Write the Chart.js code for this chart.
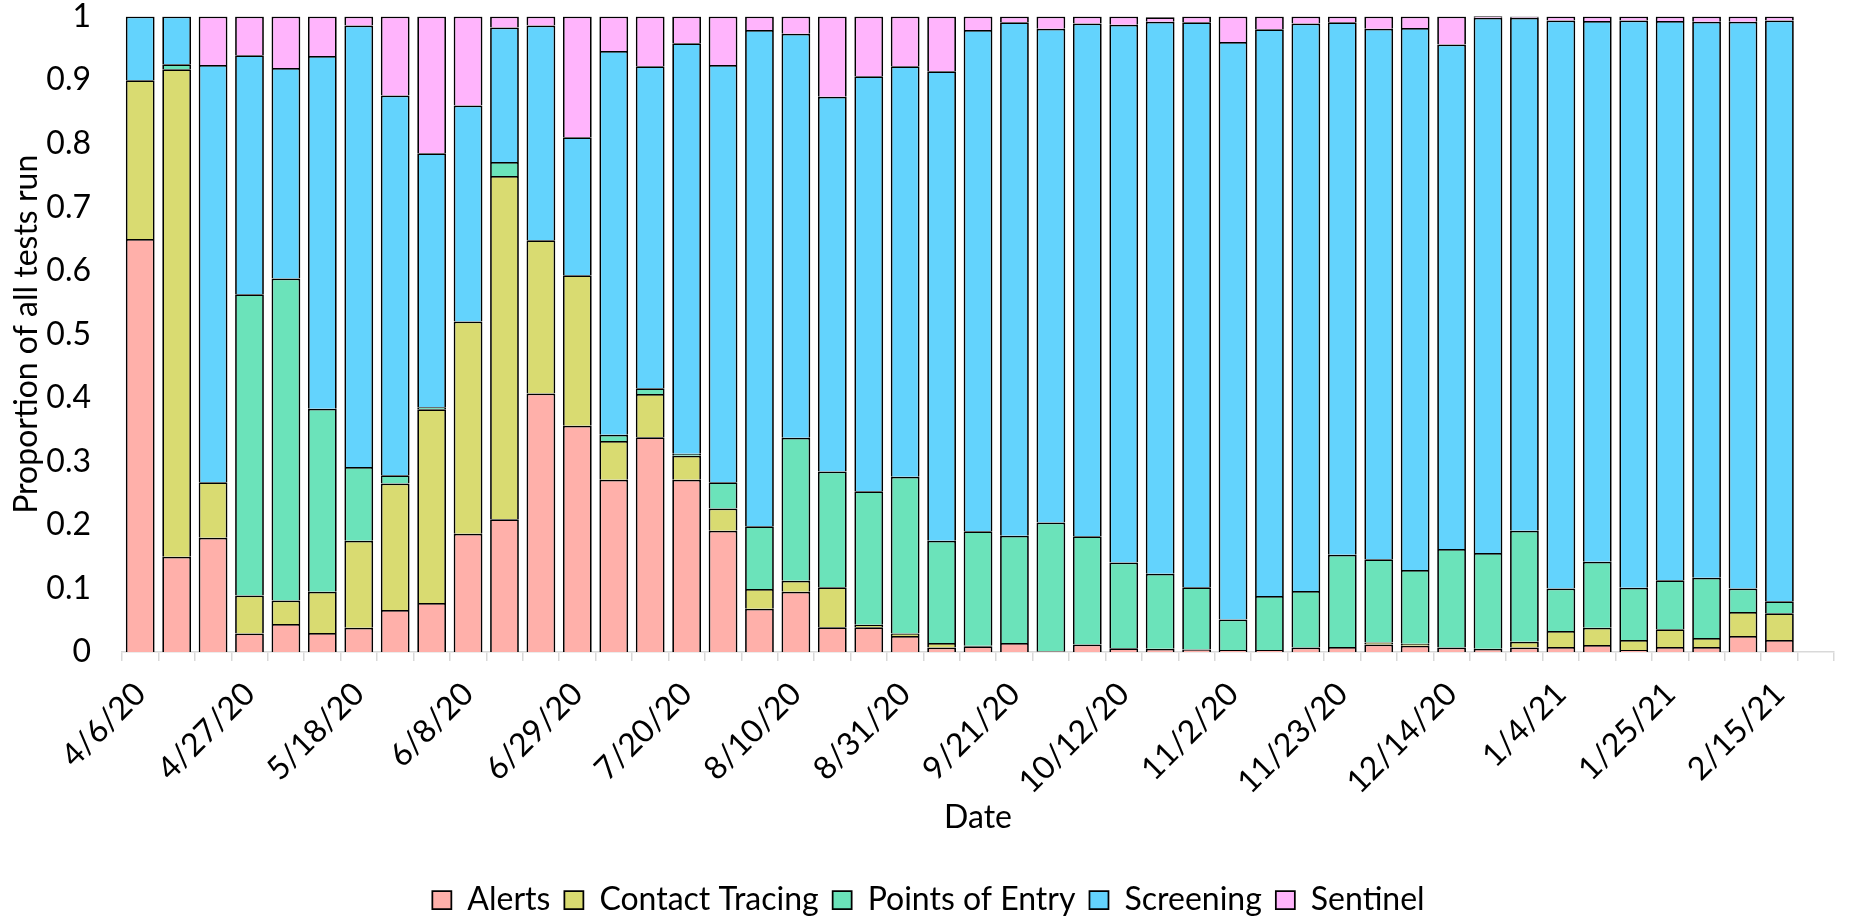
<!DOCTYPE html>
<html>
<head>
<meta charset="utf-8">
<title>Proportion of all tests run</title>
<script src="https://cdn.jsdelivr.net/npm/chart.js@4.4.0/dist/chart.umd.min.js"></script>
<style>
  html, body { margin: 0; padding: 0; background: #fff; }
  #wrap { width: 1857px; height: 917px; }
</style>
</head>
<body>
<div id="wrap"><canvas id="testChart"></canvas></div>
<script>
// Weekly dates (last week has no data)
const dates = [
    '4/6/20', '4/13/20', '4/20/20', '4/27/20', '5/4/20', '5/11/20', '5/18/20', '5/25/20',
    '6/1/20', '6/8/20', '6/15/20', '6/22/20', '6/29/20', '7/6/20', '7/13/20', '7/20/20',
    '7/27/20', '8/3/20', '8/10/20', '8/17/20', '8/24/20', '8/31/20', '9/7/20', '9/14/20',
    '9/21/20', '9/28/20', '10/5/20', '10/12/20', '10/19/20', '10/26/20', '11/2/20', '11/9/20',
    '11/16/20', '11/23/20', '11/30/20', '12/7/20', '12/14/20', '12/21/20', '12/28/20', '1/4/21',
    '1/11/21', '1/18/21', '1/25/21', '2/1/21', '2/8/21', '2/15/21', '2/22/21'
];

// Share of tests per surveillance stream
const alerts = [
    0.650, 0.150, 0.180, 0.029, 0.044, 0.030, 0.038, 0.066, 0.077, 0.186,
    0.209, 0.407, 0.356, 0.271, 0.338, 0.271, 0.191, 0.068, 0.095, 0.039,
    0.039, 0.025, 0.007, 0.009, 0.014, 0.001, 0.012, 0.006, 0.005, 0.004,
    0.003, 0.003, 0.007, 0.008, 0.012, 0.010, 0.007, 0.005, 0.007, 0.008,
    0.011, 0.003, 0.008, 0.008, 0.025, 0.019, null
];
const contactTracing = [
    0.250, 0.767, 0.087, 0.060, 0.037, 0.065, 0.137, 0.199, 0.305, 0.334,
    0.540, 0.241, 0.237, 0.061, 0.068, 0.038, 0.035, 0.031, 0.017, 0.063,
    0.004, 0.004, 0.007, 0.001, 0, 0, 0, 0, 0, 0,
    0, 0, 0, 0, 0.003, 0.003, 0, 0, 0.009, 0.025,
    0.027, 0.016, 0.028, 0.014, 0.038, 0.042, null
];
const pointsOfEntry = [
    0, 0.008, 0, 0.474, 0.507, 0.288, 0.116, 0.013, 0.003, 0,
    0.022, 0, 0, 0.010, 0.009, 0.003, 0.041, 0.099, 0.225, 0.182,
    0.210, 0.247, 0.161, 0.180, 0.169, 0.203, 0.170, 0.135, 0.118, 0.098,
    0.048, 0.085, 0.089, 0.145, 0.131, 0.116, 0.155, 0.151, 0.175, 0.067,
    0.104, 0.082, 0.077, 0.095, 0.037, 0.019, null
];
const screening = [
    0.100, 0.075, 0.657, 0.376, 0.331, 0.555, 0.695, 0.598, 0.400, 0.340,
    0.212, 0.338, 0.217, 0.604, 0.507, 0.646, 0.657, 0.781, 0.636, 0.590,
    0.653, 0.646, 0.739, 0.789, 0.808, 0.777, 0.807, 0.846, 0.869, 0.889,
    0.909, 0.892, 0.893, 0.838, 0.835, 0.853, 0.794, 0.842, 0.807, 0.894,
    0.851, 0.893, 0.880, 0.875, 0.892, 0.914, null
];
const sentinel = [
    0, 0, 0.076, 0.061, 0.081, 0.062, 0.014, 0.124, 0.215, 0.140,
    0.017, 0.014, 0.190, 0.054, 0.078, 0.042, 0.076, 0.021, 0.027, 0.126,
    0.094, 0.078, 0.086, 0.021, 0.009, 0.019, 0.011, 0.013, 0.007, 0.009,
    0.040, 0.020, 0.011, 0.009, 0.019, 0.018, 0.044, 0.003, 0.002, 0.006,
    0.007, 0.006, 0.007, 0.008, 0.008, 0.006, null
];

const seriesNames = ['Alerts', 'Contact Tracing', 'Points of Entry', 'Screening', 'Sentinel'];
const seriesColors = ['#FFB0AA', '#D9DB71', '#6BE3BA', '#63D3FD', '#FFB4FC'];
const seriesData = [alerts, contactTracing, pointsOfEntry, screening, sentinel];

Chart.defaults.font.family = "Lato, 'Liberation Sans', Arial, sans-serif";
Chart.defaults.font.size = 32;
Chart.defaults.color = '#000';

const datasets = seriesNames.map((name, i) => ({
    label: name,
    data: seriesData[i],
    backgroundColor: seriesColors[i],
    borderColor: '#000',
    borderWidth: 1.75,
    barPercentage: 0.79,
    categoryPercentage: 1
}));

const ctx = document.getElementById('testChart').getContext('2d');
new Chart(ctx, {
    type: 'bar',
    data: { labels: dates, datasets: datasets },
    options: {
        responsive: true,
        maintainAspectRatio: false,
        animation: false,
        layout: { padding: 0 },
        plugins: {
            tooltip: { enabled: false },
            legend: {
                position: 'bottom',
                maxHeight: 47,
                labels: {
                    boxWidth: 19,
                    boxHeight: 18,
                    padding: 14,
                    font: { size: 32 }
                }
            }
        },
        scales: {
            x: {
                stacked: true,
                grid: {
                    display: true,
                    drawOnChartArea: false,
                    drawTicks: true,
                    tickLength: 9,
                    color: '#D9D9D9',
                    lineWidth: 1.5,
                    offset: true
                },
                border: { color: '#D9D9D9', width: 1.5 },
                ticks: {
                    autoSkip: false,
                    maxRotation: 45,
                    minRotation: 45,
                    padding: 14,
                    callback: function (value, index) {
                        return index % 3 === 0 ? dates[index] : '';
                    }
                },
                title: {
                    display: true,
                    text: 'Date',
                    padding: { top: 0, bottom: 33 }
                },
                afterFit: function (scale) {
                    scale.height = 218;
                }
            },
            y: {
                stacked: true,
                min: 0,
                max: 1,
                // hidden tick marks only push the labels away from the bars
                grid: { display: false, drawTicks: true, tickLength: 28 },
                border: { display: false },
                ticks: {
                    stepSize: 0.1,
                    padding: 3,
                    font: { size: 32, lineHeight: 0.85 },
                    callback: function (value) {
                        return String(Number(value.toFixed(1)));
                    }
                },
                title: {
                    display: true,
                    text: 'Proportion of all tests run',
                    padding: { top: 7, bottom: 0 }
                },
                afterFit: function (scale) {
                    scale.width = 122;
                }
            }
        }
    }
});
</script>
</body>
</html>
